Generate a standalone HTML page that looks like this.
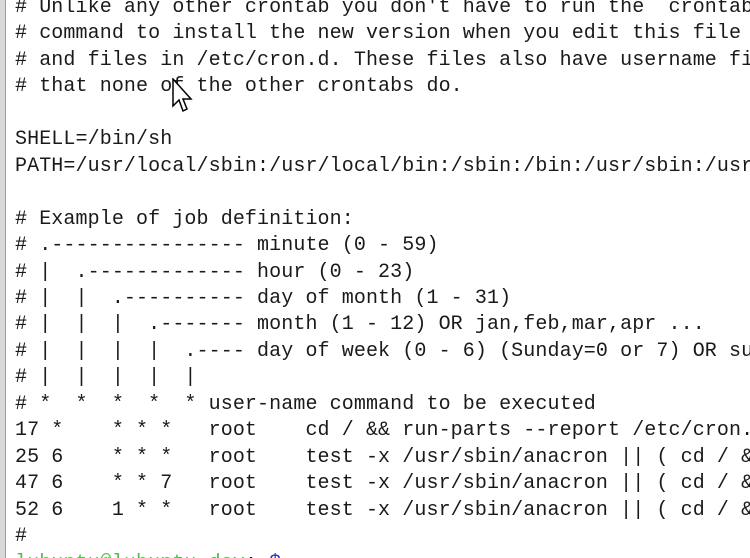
<!DOCTYPE html>
<html><head><meta charset="utf-8"><style>
html,body{margin:0;padding:0;background:#fff;width:750px;height:558px;overflow:hidden;position:relative}
.frame{position:absolute;left:0;top:0;width:5px;height:558px;background:#d8d8d8;border-right:1px solid #a0a0a0}
pre{position:absolute;left:15px;top:-5px;width:735px;height:563px;overflow:hidden;margin:0;font-family:"Liberation Mono",monospace;font-size:20px;line-height:26.45px;color:#1a1a1a;letter-spacing:0.1px;white-space:pre}
.g{color:#4cc24c}.b{color:#3030e0}
</style></head><body>
<div class="frame"></div>
<pre># Unlike any other crontab you don't have to run the `crontab'
# command to install the new version when you edit this file
# and files in /etc/cron.d. These files also have username fields,
# that none of the other crontabs do.

SHELL=/bin/sh
PATH=/usr/local/sbin:/usr/local/bin:/sbin:/bin:/usr/sbin:/usr/bin

# Example of job definition:
# .---------------- minute (0 - 59)
# |  .------------- hour (0 - 23)
# |  |  .---------- day of month (1 - 31)
# |  |  |  .------- month (1 - 12) OR jan,feb,mar,apr ...
# |  |  |  |  .---- day of week (0 - 6) (Sunday=0 or 7) OR sun,mon,tue,wed
# |  |  |  |  |
# *  *  *  *  * user-name command to be executed
17 *    * * *   root    cd / &amp;&amp; run-parts --report /etc/cron.hourly
25 6    * * *   root    test -x /usr/sbin/anacron || ( cd / &amp;&amp; run-parts
47 6    * * 7   root    test -x /usr/sbin/anacron || ( cd / &amp;&amp; run-parts
52 6    1 * *   root    test -x /usr/sbin/anacron || ( cd / &amp;&amp; run-parts
#
<span class="g">lubuntu@lubuntu-dev</span>:<span class="b">~$</span></pre>
<svg style="position:absolute;left:172px;top:78px" width="22" height="36" viewBox="0 0 22 36">
<path d="M1 1 L1 28 L7 22 L11 33 L15 31 L11 21 L19 21 Z" fill="#fff" stroke="#000" stroke-width="1.5"/>
</svg>
</body></html>
